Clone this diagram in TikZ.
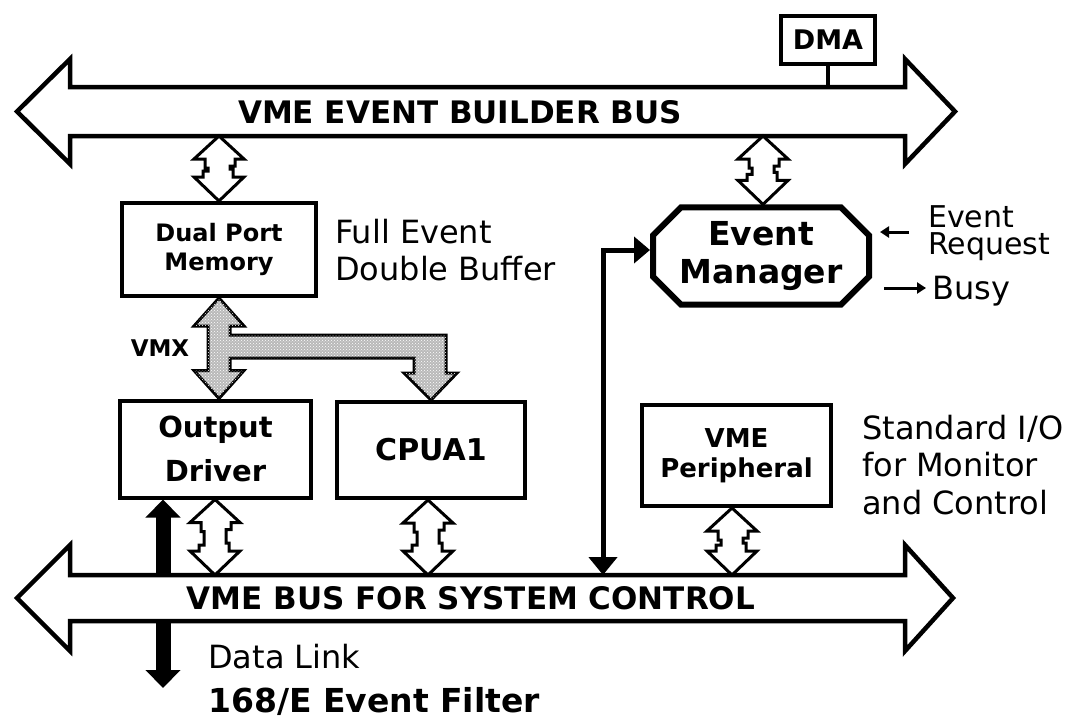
\documentclass[tikz,border=0pt]{standalone}
\usepackage{fontspec}
\setmainfont{DejaVu Sans}
\usetikzlibrary{arrows.meta,shapes.misc,patterns,calc}
\newcommand\hollowarr[2]{%
 \draw[hollow] let \p1=(#1), \p2=(#2) in
 (\p1) -- ++(-25pt,-23pt) -- ++(11pt,0pt) -- ++(0pt,-9pt) -- ++(3pt,0pt)
 -- ({\x1-11pt},{\y2+30pt}) -- ++(-5pt,0pt) -- ++(0pt,-6pt) -- ++(-9pt,0pt)
 -- (\p2) -- ++(25pt,24pt) -- ++(-11pt,0pt) -- ++(0pt,8pt) -- ++(-3pt,0pt)
 -- ({\x1+11pt},{\y1-30pt}) -- ++(5pt,0pt) -- ++(0pt,7pt) -- ++(9pt,0pt) -- cycle;}
\begin{document}
\begin{tikzpicture}[x=1pt,y=-1pt,
  bus/.style={draw=black, line width=4.5pt, fill=white, line join=miter},
  box/.style={draw=black, line width=4pt, fill=white, inner sep=0pt, align=center},
  hollow/.style={draw=black, line width=3pt, fill=white, line join=miter},
  buslbl/.style={font=\bfseries\fontsize{31}{36}\selectfont, inner sep=0pt},
  txt/.style={font=\fontsize{32}{37.5}\selectfont, inner sep=0pt, align=left},
  vmx/.style={draw=black, line width=3pt, fill=gray!55, line join=miter,
    postaction={pattern=crosshatch dots, pattern color=white}},
  thickdot/.style={draw=black, line width=5pt},
  fatarrow/.style={draw=black, line width=15pt, -{Triangle[width=34pt,length=18pt]}},
  smallarrow/.style={draw=black, line width=3pt, -{Triangle[width=11pt,length=9pt]}}
]
\useasboundingbox (0,0) rectangle (1082,720);

% buses
\draw[bus] (17,111.5) -- (70,59) -- (70,87) -- (905,87) -- (905,59) -- (955,111.5)
  -- (905,164) -- (905,136) -- (70,136) -- (70,164) -- cycle;
\draw[bus] (17,598) -- (70,545) -- (70,575) -- (905,575) -- (905,545) -- (953,598)
  -- (905,651) -- (905,621) -- (70,621) -- (70,651) -- cycle;
\node[buslbl] (tbl) at (460,112) {VME EVENT BUILDER BUS};
\node[buslbl] (bbl) at (471,598) {VME BUS FOR SYSTEM CONTROL};

% bus tap coordinates
\coordinate (tbA) at (219,136);
\coordinate (tbB) at (763,136);
\coordinate (tbD) at (829,87);
\coordinate (bbO) at (215,575);
\coordinate (bbC) at (428,575);
\coordinate (bbP) at (732,575);
\coordinate (bbE) at (603,575);
\coordinate (bbL) at (163,575);
\coordinate (bbL2) at (163,621);
\coordinate (dlink) at (163,688);

% boxes
\node[box, minimum width=94, minimum height=48,
  font=\bfseries\fontsize{27}{30}\selectfont] (dma) at (828,40) {DMA};
\node[box, minimum width=194, minimum height=93,
  font=\bfseries\fontsize{24}{29}\selectfont] (dpm) at (219,249.5) {Dual Port\\Memory};
\node[box, minimum width=191, minimum height=97,
  font=\bfseries\fontsize{29}{44}\selectfont] (od) at (215.5,449) {Output\\Driver};
\node[box, minimum width=188, minimum height=96,
  font=\bfseries\fontsize{30}{36}\selectfont] (cpu) at (431,450) {CPUA1};
\node[box, minimum width=189, minimum height=101,
  font=\bfseries\fontsize{26}{30}\selectfont] (per) at (736.5,455.5) {VME\\Peripheral};
\node[box, chamfered rectangle, chamfered rectangle xsep=14pt, chamfered rectangle ysep=14pt,
  line width=6pt, minimum width=216, minimum height=96,
  font=\bfseries\fontsize{33}{38}\selectfont] (em) at (761,256) {Event\\Manager};

\draw[line width=4pt] (dma.south) -- (dma.south |- tbD);

% hollow double arrows
\hollowarr{tbA}{tbA |- dpm.north}
\hollowarr{tbB}{tbB |- em.north}
\hollowarr{bbO |- od.south}{bbO}
\hollowarr{bbC |- cpu.south}{bbC}
\hollowarr{bbP |- per.south}{bbP}

% VMX arrow
\draw[vmx] let \p1=(dpm.south), \p2=(dpm.south |- od.north), \p3=(cpu.north) in
 (\p1) -- ++(25pt,-28pt) -- ++(-14pt,0pt) -- ++(0pt,-9pt)
 -- ({\x3+15pt},{\y1-37pt}) -- ({\x3+15pt},{\y3+27pt}) -- ++(11pt,0pt) -- (\p3)
 -- ++(-27pt,27pt) -- ++(10pt,0pt) -- ({\x3-17pt},{\y1-60pt}) -- ({\x1+11pt},{\y1-60pt})
 -- ({\x1+11pt},{\y2+28pt}) -- ++(14pt,0pt) -- (\p2) -- ++(-25pt,28pt) -- ++(14pt,0pt)
 -- ({\x1-11pt},{\y1-28pt}) -- ++(-14pt,0pt) -- cycle;
\node[font=\bfseries\fontsize{23}{26}\selectfont, inner sep=0pt] (vmxl) at (160,348) {VMX};

% thick connector to event manager
\draw[thickdot, {Triangle[width=28pt,length=18pt]}-{Triangle[width=26pt,length=16pt]}]
  (bbE) |- ([yshift=6pt]em.west);

% data link arrows
\draw[fatarrow] (bbL) -- (bbL |- od.south);
\draw[fatarrow] (bbL2) -- (dlink);

% side texts
\node[txt, anchor=west] (fe) at (335,250) {Full Event\\Double Buffer};
\node[txt, anchor=west] (std) at (862,465) {Standard I/O\\for Monitor\\and Control};
\node[txt, anchor=west, font=\fontsize{30}{27}\selectfont] (evr) at (928,233) {Event\\Request};
\node[txt, anchor=west] (busy) at (932,291) {Busy};
\coordinate (er1) at (909,232);
\coordinate (er2) at (880,232);
\coordinate (bz1) at (884,288);
\coordinate (bz2) at (926,288);
\draw[smallarrow] (er1) -- (er2);
\draw[smallarrow] (bz1) -- (bz2);
\node[txt, anchor=west] (dl) at (208,657) {Data Link};
\node[inner sep=0pt, anchor=west, font=\bfseries\fontsize{33}{38}\selectfont] (filt) at (208,701) {168/E Event Filter};
\end{tikzpicture}
\end{document}
